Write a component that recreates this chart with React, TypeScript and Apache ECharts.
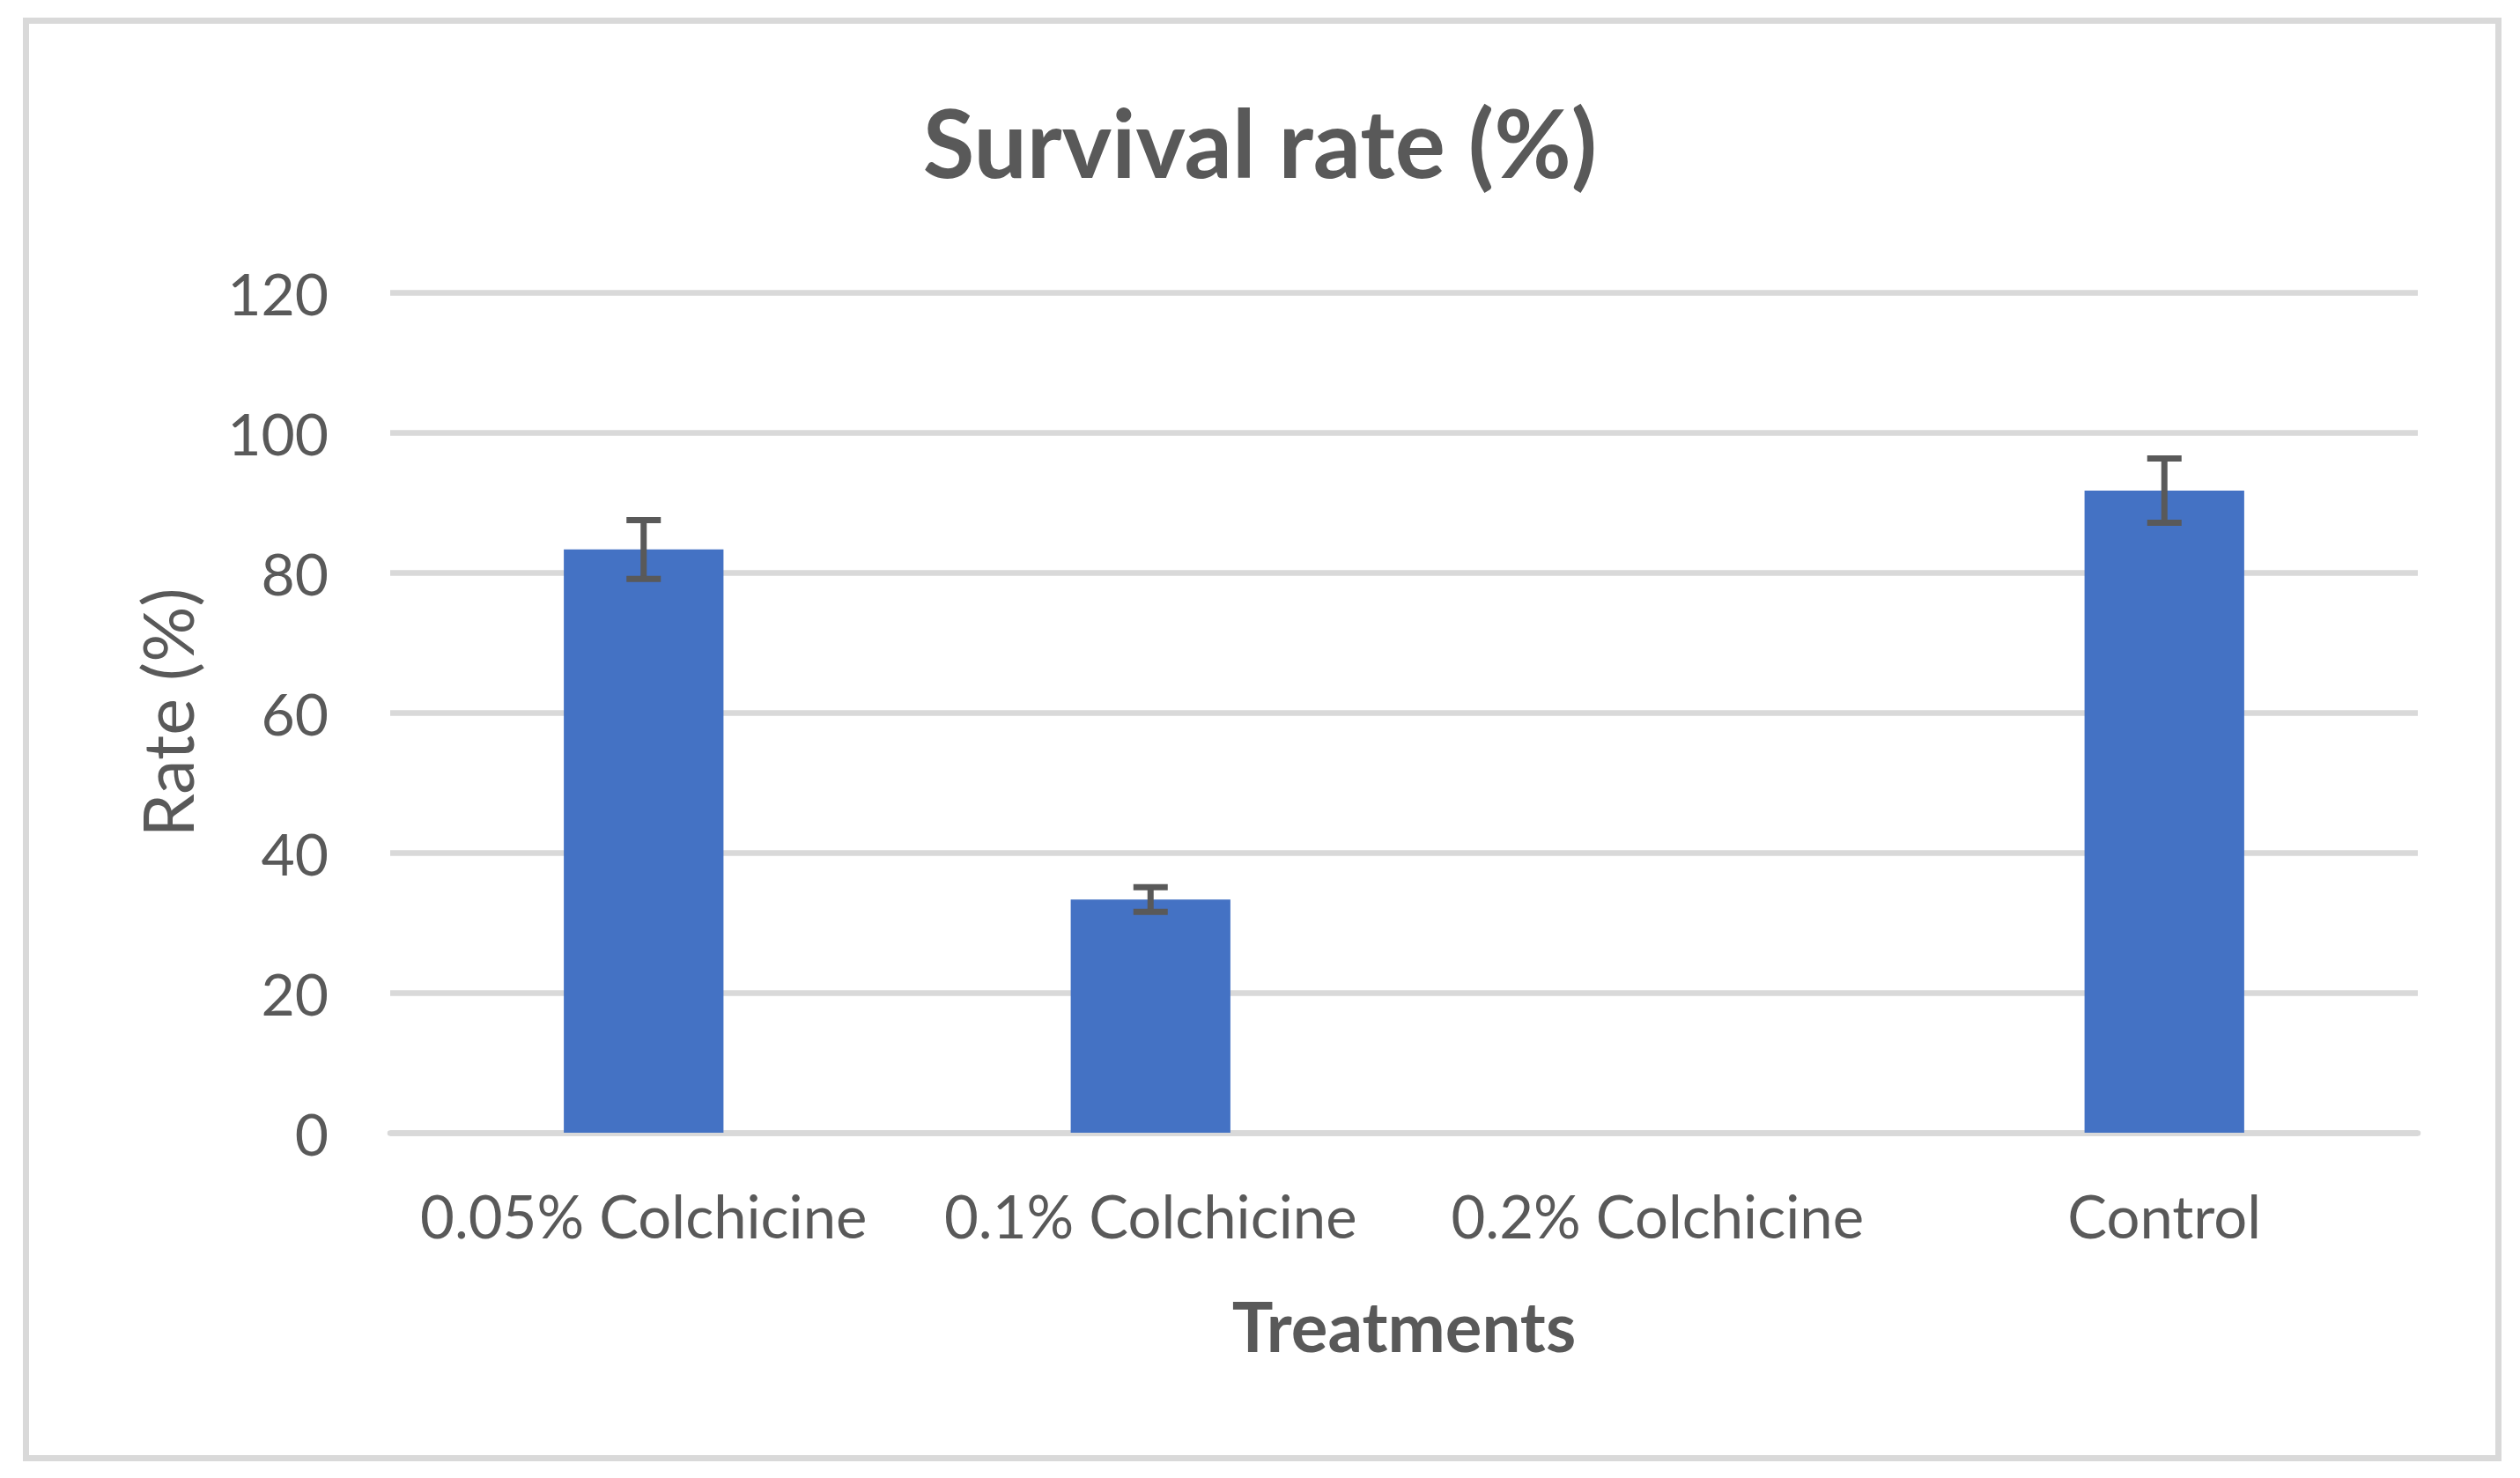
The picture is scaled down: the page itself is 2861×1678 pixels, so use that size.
import React, { useEffect, useRef } from "react";
import * as echarts from "echarts";

const categories = ["0.05% Colchicine", "0.1% Colchicine", "0.2% Colchicine", "Control"];
const survivalRates = [83.3, 33.3, 0, 91.7];
const errorMargins = [4.2, 1.75, 0, 4.6];
const yTicks = { min: 0, max: 120, interval: 20 };

const TEXT = "#595959";
const GRID = "#D9D9D9";
const BAR = "#4472C4";
const FONT = "Lato";

export default function App() {
  const ref = useRef<HTMLDivElement>(null);
  useEffect(() => {
    if (!ref.current) return;
    const chart = echarts.init(ref.current, null, { renderer: "svg" });
    const errData = categories
      .map((_, i) => [i, survivalRates[i] - errorMargins[i], survivalRates[i] + errorMargins[i]])
      .filter((_, i) => errorMargins[i] > 0);
    chart.setOption({
      animation: false,
      backgroundColor: "#ffffff",
      title: {
        text: "Survival rate (%)",
        left: "center",
        top: 102,
        textStyle: { fontFamily: FONT, fontWeight: "bold", fontSize: 107, color: TEXT, lineHeight: 107 },
      },
      graphic: [
        {
          type: "rect",
          shape: { x: 29.5, y: 23.5, width: 2807, height: 1632 },
          style: { fill: "none", stroke: GRID, lineWidth: 7 },
          silent: true,
          z: -1,
        },
      ],
      grid: { left: 443, right: 116, top: 332, bottom: 392, containLabel: false },
      xAxis: {
        type: "category",
        data: categories,
        axisLine: { show: true, lineStyle: { color: GRID, width: 6.5 } },
        axisTick: { show: false },
        axisLabel: { interval: 0, color: TEXT, fontFamily: FONT, fontSize: 67, margin: 60, lineHeight: 67 },
        name: "Treatments",
        nameLocation: "middle",
        nameGap: 180,
        nameTextStyle: { color: TEXT, fontFamily: FONT, fontWeight: "bold", fontSize: 78, lineHeight: 78 },
      },
      yAxis: {
        type: "value",
        min: yTicks.min,
        max: yTicks.max,
        interval: yTicks.interval,
        axisLine: { show: false },
        axisTick: { show: false },
        splitLine: { show: true, lineStyle: { color: GRID, width: 6.5 } },
        axisLabel: { color: TEXT, fontFamily: FONT, fontSize: 66, margin: 70 },
        name: "Rate (%)",
        nameLocation: "middle",
        nameGap: 214,
        nameTextStyle: { color: TEXT, fontFamily: FONT, fontSize: 79, lineHeight: 79 },
      },
      series: [
        {
          type: "bar",
          data: survivalRates,
          barWidth: "31.5%",
          itemStyle: { color: BAR },
        },
        {
          type: "custom",
          data: errData,
          encode: { x: 0, y: [1, 2] },
          z: 5,
          renderItem: (params: any, api: any) => {
            const idx = api.value(0);
            const lo = api.coord([idx, api.value(1)]);
            const hi = api.coord([idx, api.value(2)]);
            const half = 19.5;
            const style = { stroke: TEXT, lineWidth: 7, fill: "none" };
            return {
              type: "group",
              children: [
                { type: "line", shape: { x1: hi[0], y1: hi[1], x2: lo[0], y2: lo[1] }, style },
                { type: "line", shape: { x1: hi[0] - half, y1: hi[1], x2: hi[0] + half, y2: hi[1] }, style },
                { type: "line", shape: { x1: lo[0] - half, y1: lo[1], x2: lo[0] + half, y2: lo[1] }, style },
              ],
            };
          },
        },
      ],
    });
    return () => chart.dispose();
  }, []);
  return (
    <div
      ref={ref}
      style={{ position: "fixed", left: 0, top: 0, width: 2861, height: 1678, background: "#fff" }}
    />
  );
}
